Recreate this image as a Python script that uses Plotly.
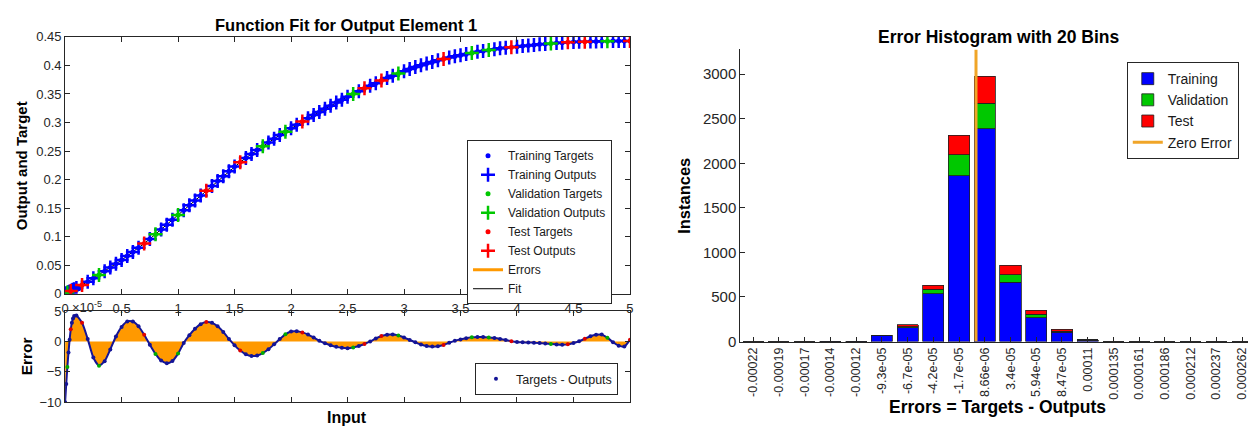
import numpy as np
import plotly.graph_objects as go

# ---------------- data ----------------
inputs = [0, 0.01, 0.02, 0.03, 0.04, 0.05, 0.06, 0.07, 0.08, 0.1, 0.15, 0.2, 0.25, 0.3, 0.35, 0.4, 0.45,
          0.5, 0.55, 0.6, 0.65, 0.7, 0.75, 0.8, 0.85, 0.9, 0.95, 1.0, 1.05, 1.1, 1.15, 1.2, 1.25, 1.3,
          1.35, 1.4, 1.45, 1.5, 1.55, 1.6, 1.65, 1.7, 1.75, 1.8, 1.85, 1.9, 1.95, 2.0, 2.05, 2.1, 2.15,
          2.2, 2.25, 2.3, 2.35, 2.4, 2.45, 2.5, 2.55, 2.6, 2.65, 2.7, 2.75, 2.8, 2.85, 2.9, 2.95, 3.0,
          3.05, 3.1, 3.15, 3.2, 3.25, 3.3, 3.35, 3.4, 3.45, 3.5, 3.55, 3.6, 3.65, 3.7, 3.75, 3.8, 3.85,
          3.9, 3.95, 4.0, 4.05, 4.1, 4.15, 4.2, 4.25, 4.3, 4.35, 4.4, 4.45, 4.5, 4.55, 4.6, 4.65, 4.7,
          4.75, 4.8, 4.85, 4.9, 4.95, 5.0]

targets = [0.0, 0.001, 0.002, 0.003, 0.004, 0.005, 0.006, 0.007, 0.008, 0.010, 0.0155, 0.021, 0.027,
           0.033, 0.0395, 0.046, 0.0525, 0.059, 0.066, 0.073, 0.0805, 0.088, 0.096, 0.104, 0.1125,
           0.121, 0.1295, 0.138, 0.1465, 0.155, 0.1635, 0.172, 0.1805, 0.189, 0.1975, 0.206, 0.2145,
           0.223, 0.2305, 0.238, 0.245, 0.252, 0.2585, 0.265, 0.2715, 0.278, 0.284, 0.290, 0.296,
           0.302, 0.3075, 0.313, 0.3185, 0.324, 0.3295, 0.335, 0.340, 0.345, 0.350, 0.355, 0.360,
           0.3645, 0.369, 0.3735, 0.378, 0.382, 0.386, 0.390, 0.394, 0.3975, 0.4005, 0.4035, 0.406,
           0.409, 0.4115, 0.414, 0.416, 0.418, 0.420, 0.422, 0.424, 0.4255, 0.427, 0.4285, 0.430,
           0.431, 0.432, 0.433, 0.434, 0.435, 0.436, 0.437, 0.4378, 0.4385, 0.4393, 0.440, 0.4405,
           0.441, 0.4414, 0.4417, 0.442, 0.4422, 0.4424, 0.4426, 0.4428, 0.4429, 0.443, 0.443]

# errors (targets - outputs) in units of 1e-5
errors = [-10, -7.0, -4.2, -1.8, 0.3, 2.0, 3.1, 3.8, 4.2, 4.28, 3.08, 0.42, -2.66, -4.0, -3.26, -1.31,
          0.83, 2.40, 3.30, 3.28, 2.49, 1.11, -0.53, -2.05, -3.15, -3.6, -3.22, -2.0, -0.26, 1.03,
          2.09, 2.85, 3.19, 3.07, 2.5, 1.57, 0.42, -0.64, -1.5, -2.12, -2.4, -2.3, -1.91, -1.28, -0.48,
          0.4, 1.18, 1.64, 1.68, 1.49, 1.14, 0.66, 0.1, -0.3, -0.63, -0.89, -1.05, -1.1, -0.99, -0.76,
          -0.41, 0.0, 0.5, 0.9, 1.12, 1.14, 0.97, 0.66, 0.26, -0.15, -0.49, -0.74, -0.85, -0.79, -0.57,
          -0.23, 0.1, 0.34, 0.54, 0.68, 0.75, 0.74, 0.67, 0.57, 0.42, 0.24, 0.04, -0.1, -0.15, -0.18,
          -0.2, -0.25, -0.33, -0.42, -0.5, -0.54, -0.48, -0.25, 0.03, 0.45, 0.85, 1.1, 1.13, 0.62,
          -0.13, -0.69, -0.84, 0.3]

subset = list("TTVTTRTTT" "TRTTVTTTT" "TTTRTVTTT" "VTTTTRTTT" "TTRTTTVTT" "TVTTRTTTT"
              "TTTTVTRTT" "RTTVTTTTT" "TTRTTTTVT" "TVTTTRTTT" "TTTVTTRTT" "RTTTVTTTR")

bin_centers = [-2.19463e-4, -1.94116e-4, -1.68769e-4, -1.43422e-4, -1.18075e-4, -9.2728e-5,
               -6.7381e-5, -4.2034e-5, -1.6687e-5, 8.660e-6, 3.4007e-5, 5.9354e-5, 8.4701e-5,
               1.10048e-4, 1.35395e-4, 1.60742e-4, 1.86089e-4, 2.11436e-4, 2.36783e-4, 2.62130e-4]
bin_labels = ["-0.00022", "-0.00019", "-0.00017", "-0.00014", "-0.00012", "-9.3e-05", "-6.7e-05",
              "-4.2e-05", "-1.7e-05", "8.66e-06", "3.4e-05", "5.94e-05", "8.47e-05", "0.00011",
              "0.000135", "0.000161", "0.000186", "0.000212", "0.000237", "0.000262"]
hist_training = [0, 0, 0, 1, 2, 65, 152, 536, 1858, 2389, 666, 265, 106, 15, 0, 0, 0, 0, 0, 0]
hist_validation = [0, 0, 0, 0, 1, 3, 16, 50, 235, 282, 84, 40, 12, 3, 0, 0, 0, 0, 0, 0]
hist_test = [0, 0, 0, 0, 1, 3, 18, 45, 223, 306, 104, 47, 17, 2, 0, 0, 0, 0, 0, 0]

x_ticks = [0, 0.5, 1, 1.5, 2, 2.5, 3, 3.5, 4, 4.5, 5]
x_ticktext = ["0", "0.5", "1", "1.5", "2", "2.5", "3", "3.5", "4", "4.5", "5"]
y1_ticks = [0, 0.05, 0.1, 0.15, 0.2, 0.25, 0.3, 0.35, 0.4, 0.45]
y1_ticktext = ["0", "0.05", "0.1", "0.15", "0.2", "0.25", "0.3", "0.35", "0.4", "0.45"]
y2_ticks = [-10, -5, 0, 5]
y3_ticks = [0, 500, 1000, 1500, 2000, 2500, 3000]

# ---------------- helpers ----------------
W, H = 1252, 434
def px(x):
    return x / W
def py(y):
    return 1 - y / H

FONT = "Liberation Sans, Arial, Helvetica, sans-serif"
AX = "#262626"
BLUE = "rgb(0,0,255)"
GREEN = "rgb(0,200,0)"
RED = "rgb(255,0,0)"
ORANGE = "rgb(255,153,0)"
NAVY = "rgb(20,20,150)"

x_arr = np.array(inputs)
t_arr = np.array(targets)
e_arr = np.array(errors)
o_arr = t_arr - e_arr * 1e-5
sub = np.array(subset)

fig = go.Figure()

# --- top panel: fit line and errors (legend entries) ---
fig.add_trace(go.Scatter(x=inputs, y=list(o_arr), mode="lines", name="Fit",
                         line=dict(color="black", width=1), legendrank=8,
                         xaxis="x", yaxis="y", legend="legend"))
fig.add_trace(go.Scatter(x=[None], y=[None], mode="lines", name="Errors",
                         line=dict(color=ORANGE, width=3), legendrank=7,
                         xaxis="x", yaxis="y", legend="legend"))

sets = [("T", "Training", BLUE), ("V", "Validation", GREEN), ("R", "Test", RED)]
rank = 1
for key, nm, col in sets:
    m = sub == key
    fig.add_trace(go.Scatter(x=list(x_arr[m]), y=list(t_arr[m]), mode="markers",
                             name=nm + " Targets", legendrank=rank,
                             marker=dict(color=col, size=5, symbol="circle"),
                             xaxis="x", yaxis="y", legend="legend"))
    fig.add_trace(go.Scatter(x=list(x_arr[m]), y=list(o_arr[m]), mode="markers",
                             name=nm + " Outputs", legendrank=rank + 1,
                             marker=dict(color=col, size=10, symbol="cross-thin-open",
                                         line=dict(color=col, width=2.5)),
                             xaxis="x", yaxis="y", legend="legend"))
    rank += 2

# --- bottom panel: error fill and dots ---
fig.add_trace(go.Scatter(x=inputs, y=errors, mode="lines", fill="tozeroy",
                         fillcolor=ORANGE, line=dict(color=NAVY, width=2, shape="spline", smoothing=0.6),
                         showlegend=False, xaxis="x2", yaxis="y2"))
err_cols = [("T", NAVY, True), ("V", "rgb(0,170,0)", False), ("R", "rgb(220,0,0)", False)]
for key, col, show in err_cols:
    m = sub == key
    fig.add_trace(go.Scatter(x=list(x_arr[m]), y=list(e_arr[m]), mode="markers",
                             name="Targets - Outputs", showlegend=show,
                             marker=dict(color=col, size=4),
                             xaxis="x2", yaxis="y2", legend="legend2"))

# --- histogram ---
bw = 2.08e-5
for vals, nm, col in [(hist_training, "Training", BLUE), (hist_validation, "Validation", GREEN),
                      (hist_test, "Test", RED)]:
    fig.add_trace(go.Bar(x=bin_centers, y=vals, name=nm, width=bw,
                         marker=dict(color=col, line=dict(color="#202020", width=0.8)),
                         xaxis="x3", yaxis="y3", legend="legend3"))
fig.add_trace(go.Scatter(x=[0, 0], y=[0, 3277], mode="lines", name="Zero Error",
                         line=dict(color="rgb(240,165,40)", width=3),
                         xaxis="x3", yaxis="y3", legend="legend3"))

tickfont_l = dict(family=FONT, size=13, color=AX)
common = dict(showgrid=False, zeroline=False, showline=True, linecolor=AX, linewidth=1,
              ticks="inside", ticklen=5, tickcolor=AX)

x_dom = [px(61.5), px(630)]
fig.update_layout(
    width=W, height=H,
    margin=dict(l=0, r=0, t=0, b=0),
    paper_bgcolor="white", plot_bgcolor="white",
    font=dict(family=FONT, color=AX),
    barmode="stack",
    xaxis=dict(domain=x_dom, anchor="y", range=[0, 5], tickvals=x_ticks, ticktext=x_ticktext,
               mirror="ticks", tickfont=tickfont_l, ticklabelstandoff=3, **common),
    yaxis=dict(domain=[py(297), py(31)], anchor="x", range=[0, 0.45], tickvals=y1_ticks,
               ticktext=y1_ticktext, mirror="ticks", tickfont=tickfont_l, **common),
    xaxis2=dict(domain=x_dom, anchor="y2", range=[0, 5], tickvals=x_ticks, showticklabels=False,
                mirror="ticks", **common),
    yaxis2=dict(domain=[py(409.3), py(315)], anchor="x2", range=[-10, 5], tickvals=y2_ticks,
                mirror="ticks", tickfont=tickfont_l, **common),
    xaxis3=dict(domain=[px(741), 1.0], anchor="y3", range=[-2.32186e-4, 2.67904e-4],
                tickvals=bin_centers, ticktext=bin_labels, tickangle=-90,
                tickfont=dict(family=FONT, size=12.5, color=AX), **common),
    yaxis3=dict(domain=[py(346.5), py(44)], anchor="x3", range=[0, 3277], tickvals=y3_ticks,
                tickfont=dict(family=FONT, size=15, color=AX), **common),
    legend=dict(x=px(466), y=py(138), xanchor="left", yanchor="top", bgcolor="white",
                bordercolor=AX, borderwidth=1, font=dict(family=FONT, size=12, color="#1a1a1a"),
                tracegroupgap=0, itemwidth=30, traceorder="normal"),
    legend2=dict(x=px(474), y=py(369), xanchor="left", yanchor="top", bgcolor="white",
                 bordercolor=AX, borderwidth=1, font=dict(family=FONT, size=12.5, color="#1a1a1a")),
    legend3=dict(x=px(1130), y=py(57), xanchor="left", yanchor="top", bgcolor="white",
                 bordercolor=AX, borderwidth=1, font=dict(family=FONT, size=14, color="#1a1a1a"),
                 itemwidth=30, traceorder="normal"),
)

ann = [
    dict(text="<b>Function Fit for Output Element 1</b>", x=px(344), y=py(19), size=16.5, angle=0),
    dict(text="<b>Error Histogram with 20 Bins</b>", x=px(1000.5), y=py(31), size=17.5, angle=0),
    dict(text="<b>Output and Target</b>", x=px(17), y=py(164), size=15, angle=-90),
    dict(text="<b>Error</b>", x=px(23), y=py(362), size=15.5, angle=-90),
    dict(text="<b>Input</b>", x=px(345), y=py(425), size=16, angle=0),
    dict(text="<b>Instances</b>", x=px(685), y=py(196), size=16.5, angle=-90),
    dict(text="<b>Errors = Targets - Outputs</b>", x=px(1000), y=py(414), size=17.5, angle=0),
]
for a in ann:
    fig.add_annotation(text=a["text"], x=a["x"], y=a["y"], xref="paper", yref="paper",
                       xanchor="center", yanchor="middle", showarrow=False, textangle=a["angle"],
                       font=dict(family=FONT, size=a["size"], color="black"))
fig.add_annotation(text="×10<sup>-5</sup>", x=px(66), y=py(311), xref="paper", yref="paper",
                   xanchor="left", yanchor="middle", showarrow=False,
                   font=dict(family=FONT, size=13, color=AX))

fig.write_html("out.html")
